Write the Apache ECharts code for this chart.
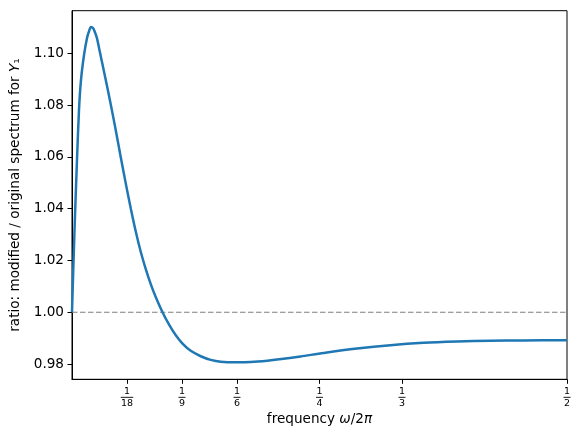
<!DOCTYPE html>
<html>
<head>
<meta charset="utf-8">
<script src="https://cdn.jsdelivr.net/npm/echarts@6/dist/echarts.min.js"></script>
<style>html,body{margin:0;padding:0;background:#fff}#c{width:580px;height:437px}</style>
</head>
<body>
<div id="c"></div>
<script>
// frequency values (omega / 2pi)
var freq = [0, 0.00151, 0.00323, 0.00504, 0.00706, 0.00907, 0.01210, 0.01512, 0.01714, 0.01915, 0.02117, 0.02319, 0.02520, 0.02752, 0.03327, 0.03931, 0.04435, 0.04940, 0.05444, 0.05948, 0.06452, 0.06956, 0.07460, 0.07964, 0.08468, 0.09143, 0.09778, 0.10484, 0.11190, 0.11996, 0.13004, 0.14012, 0.15020, 0.16704, 0.18044, 0.19728, 0.21371, 0.23085, 0.25433, 0.28800, 0.32157, 0.35514, 0.38881, 0.42238, 0.45595, 0.5];
// ratio modified / original spectrum
var ratio = [1.0000, 1.0194, 1.0395, 1.0588, 1.0781, 1.0897, 1.0993, 1.1059, 1.1085, 1.1102, 1.1098, 1.1082, 1.1059, 1.1017, 1.0913, 1.0800, 1.0700, 1.0596, 1.0495, 1.0399, 1.0310, 1.0232, 1.0166, 1.0108, 1.0058, 1.0000, 0.9954, 0.9911, 0.9878, 0.9851, 0.9830, 0.9816, 0.9809, 0.9807, 0.9808, 0.9813, 0.9820, 0.9829, 0.9843, 0.9860, 0.9873, 0.9882, 0.9887, 0.9890, 0.9891, 0.9892];
// x tick denominators (ticks at 1/den)
var tickDen = [18, 9, 6, 4, 3, 2];
// y tick labels
var yTicks = [0.98, 1.00, 1.02, 1.04, 1.06, 1.08, 1.10];
var refLevel = 1.0;

var xTickVals = tickDen.map(function(d){ return 1 / d; });
var curve = freq.map(function(f, i){ return [f, ratio[i]]; });

var chart = echarts.init(document.getElementById('c'), null, {renderer: 'canvas'});
var font = 'DejaVu Sans';
var fs = 13.6;
chart.setOption({
  animation: false,
  grid: {left: 71, right: 13, top: 10.7, bottom: 57.7, show: true, borderColor: '#000', borderWidth: 1, backgroundColor: 'transparent'},
  xAxis: {
    type: 'value', min: 0, max: 0.5,
    splitLine: {show: false},
    axisLine: {lineStyle: {color: '#000', width: 1}},
    axisTick: {show: true, length: 4.5, inside: false, customValues: xTickVals, lineStyle: {color: '#000'}},
    axisLabel: {
      customValues: xTickVals, margin: 8, color: '#000', fontFamily: font,
      formatter: function(v){
        var best = 0, bd = 1e9;
        xTickVals.forEach(function(t, i){ var d = Math.abs(t - v); if (d < bd) { bd = d; best = i; } });
        var den = tickDen[best];
        var b = den >= 10 ? 'b2' : 'b1';
        return '{n|1}\n{' + b + '|}\n{d|' + den + '}';
      },
      rich: {
        n: {fontSize: 9.5, lineHeight: 8.5, fontFamily: font, color: '#000', align: 'center'},
        b1: {width: 7, height: 0.9, lineHeight: 3, backgroundColor: '#000', align: 'center'},
        b2: {width: 12.5, height: 0.9, lineHeight: 3, backgroundColor: '#000', align: 'center'},
        d: {fontSize: 9.5, lineHeight: 8.5, fontFamily: font, color: '#000', align: 'center'}
      }
    },
    name: 'frequency {i|ω}/2{i|π}',
    nameLocation: 'middle', nameGap: 33,
    nameTextStyle: {fontSize: fs, fontFamily: font, color: '#000',
      rich: {i: {fontSize: fs, fontFamily: font, fontStyle: 'italic', color: '#000'}}}
  },
  yAxis: {
    type: 'value', min: 0.9741, max: 1.1165,
    splitLine: {show: false},
    axisLine: {show: true, lineStyle: {color: '#000', width: 1}},
    axisTick: {show: true, length: 4.5, inside: false, customValues: yTicks, lineStyle: {color: '#000'}},
    axisLabel: {customValues: yTicks, margin: 8, color: '#000', fontSize: fs, fontFamily: font,
      formatter: function(v){ return v.toFixed(2); }},
    name: 'ratio: modified / original spectrum for {i|Y}₁',
    nameLocation: 'middle', nameGap: 50,
    nameTextStyle: {fontSize: fs, fontFamily: font, color: '#000',
      rich: {i: {fontSize: fs, fontFamily: font, fontStyle: 'italic', color: '#000'}}}
  },
  series: [
    {
      type: 'line', data: [[0, refLevel], [0.5, refLevel]], symbol: 'none', silent: true,
      lineStyle: {color: '#808080', width: 1.2, type: [5.5, 2.5]}, z: 1
    },
    {
      type: 'line', data: curve, symbol: 'none', smooth: 0.3, clip: true,
      lineStyle: {color: '#1f77b4', width: 2.5}, z: 2
    }
  ]
});
</script>
</body>
</html>
